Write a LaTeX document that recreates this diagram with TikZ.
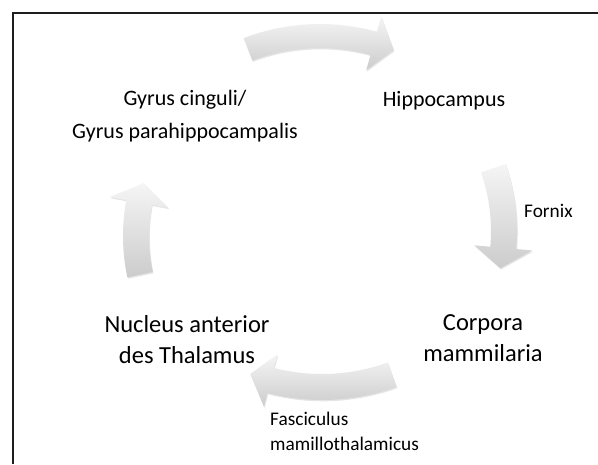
\documentclass[tikz,border=0pt]{standalone}
\usepackage{fontspec}
\setmainfont{Carlito}
\usetikzlibrary{calc,shadows}
\definecolor{arrowtop}{HTML}{F5F5F5}
\definecolor{arrowbot}{HTML}{CCCCCC}
\definecolor{framegray}{HTML}{1E1E1E}
\tikzset{
  cyclelabel/.style={align=center, font=\fontsize{22}{33}\selectfont, inner sep=0pt},
  lowlabel/.style={cyclelabel, font=\fontsize{24.5}{31}\selectfont},
  tractlabel/.style={align=left, font=\fontsize{19.3}{25}\selectfont, inner sep=0pt},
  blockarrow/.style={top color=arrowtop, bottom color=arrowbot, draw=none,
    drop shadow={opacity=.2, shadow xshift=.8pt, shadow yshift=-1.3pt}},
}
% #1 centre, #2 radius, #3 half width, #4 head half width, #5 tail, #6 head base, #7 tip angle
\newcommand{\cyclearrow}[7]{%
  \pgfmathsetmacro\ro{#2+#3}\pgfmathsetmacro\ri{#2-#3}%
  \pgfmathsetmacro\ho{#2+#4}\pgfmathsetmacro\hi{#2-#4}%
  \path[blockarrow] ($(#1)+(#5:\ro)$) arc[start angle=#5, end angle=#6, radius=\ro]
    -- ($(#1)+(#6:\ho)$) -- ($(#1)+(#7:#2)$) -- ($(#1)+(#6:\hi)$)
    -- ($(#1)+(#6:\ri)$) arc[start angle=#6, end angle=#5, radius=\ri] -- cycle;
}

\begin{document}
\begin{tikzpicture}[x=1pt,y=-1pt]
  \useasboundingbox (0,0) rectangle (598,464);
  \fill[white] (0,0) rectangle (598,464);
  \draw[framegray, line width=2pt] (13,464) -- (13,13) -- (598,13);

  % centres of the curved arrows
  \coordinate (ctop) at (320,237);
  \coordinate (cright) at (314,231);
  \coordinate (cbottom) at (322,182);
  \coordinate (cleft) at (322,236);

  \cyclearrow{ctop}{201}{12}{28}{-111}{-74.5}{-68.5}
  \cyclearrow{cright}{190}{13}{29}{-19.3}{5.1}{11.3}
  \cyclearrow{cbottom}{205}{13}{27}{70}{104.5}{110.5}
  \cyclearrow{cleft}{186}{13}{30}{168}{190.4}{196.5}

  \node[cyclelabel] (gyrus) at (185,116) {Gyrus cinguli/\\Gyrus parahippocampalis};
  \node[cyclelabel] (hippo) at (444,101) {Hippocampus};
  \node[lowlabel] (corpora) at (483,338) {Corpora\\mammilaria};
  \node[lowlabel] (nucleus) at (187,340) {Nucleus anterior\\des Thalamus};

  \node[tractlabel, anchor=west] (fornix) at (524,211) {Fornix};
  \node[tractlabel, anchor=north west] (fasc) at (270,412) {Fasciculus\\mamillothalamicus};
\end{tikzpicture}
\end{document}
